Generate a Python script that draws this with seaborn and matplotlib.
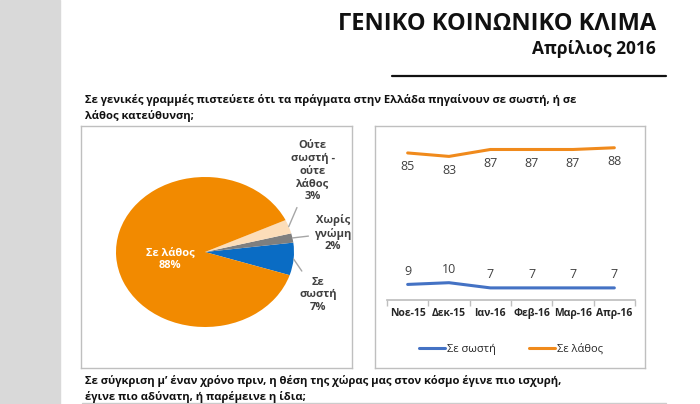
import numpy as np
import pandas as pd
import seaborn as sns
import matplotlib.pyplot as plt
from matplotlib.patches import Rectangle
from matplotlib.lines import Line2D

# ---- data ----
pie_labels = ["Σε\nσωστή\n7%", "Χωρίς\nγνώμη\n2%", "Ούτε\nσωστή -\nούτε\nλάθος\n3%", "Σε λάθος\n88%"]
pie_values = [7, 2, 3, 88]
pie_colors = ["#0A6CC4", "#7F7F7F", "#FCDDB9", "#F28A00"]

months = ["Νοε-15", "Δεκ-15", "Ιαν-16", "Φεβ-16", "Μαρ-16", "Απρ-16"]
sosti = [9, 10, 7, 7, 7, 7]
lathos = [85, 83, 87, 87, 87, 88]

title = "ΓΕΝΙΚΟ ΚΟΙΝΩΝΙΚΟ ΚΛΙΜΑ"
subtitle = "Απρίλιος 2016"
question1 = "Σε γενικές γραμμές πιστεύετε ότι τα πράγματα στην Ελλάδα πηγαίνουν σε σωστή, ή σε\nλάθος κατεύθυνση;"
question2 = "Σε σύγκριση μ’ έναν χρόνο πριν, η θέση της χώρας μας στον κόσμο έγινε πιο ισχυρή,\nέγινε πιο αδύνατη, ή παρέμεινε η ίδια;"

sns.set_theme(style="white")
plt.rcParams['font.family'] = ['Open Sans', 'DejaVu Sans']

W, H = 700, 404
fig = plt.figure(figsize=(7, 4.04), dpi=100)


def px_axes(x0, y0, x1, y1, **kw):
    """axes from pixel box (top-left origin)"""
    return fig.add_axes([x0 / W, 1 - y1 / H, (x1 - x0) / W, (y1 - y0) / H], **kw)


# page background
fig.patches.append(Rectangle((0, 0), 60 / W, 1, transform=fig.transFigure,
                             color="#D9D9D9", zorder=0))

fig.text(656 / W, 1 - 24 / H, title, ha="right", va="center", fontsize=17,
         fontweight="bold", color="#111111")
fig.text(656 / W, 1 - 49 / H, subtitle, ha="right", va="center", fontsize=12.5,
         fontweight="bold", color="#111111")
fig.add_artist(Line2D([392 / W, 666 / W], [1 - 76 / H] * 2, color="#111111", lw=1.6))
fig.text(85 / W, 1 - 108 / H, question1, ha="left", va="center", fontsize=8.1,
         fontweight="bold", color="#111111", linespacing=1.45)
fig.text(85 / W, 1 - 389 / H, question2, ha="left", va="center", fontsize=8.1,
         fontweight="bold", color="#111111", linespacing=1.45)
fig.add_artist(Line2D([82 / W, 666 / W], [1 - 403 / H] * 2, color="#CCCCCC", lw=1))

# chart boxes
for bx in [(81, 126, 352, 368), (375, 126, 645, 368)]:
    b = px_axes(*bx)
    b.set_xticks([])
    b.set_yticks([])
    for s in b.spines.values():
        s.set_color("#BFBFBF")
        s.set_linewidth(1)

# ---- pie ----
ax1 = px_axes(116, 177, 294, 327)
wedges, _ = ax1.pie(pie_values, colors=pie_colors, startangle=-18, counterclock=True,
                    wedgeprops=dict(linewidth=0))
ax1.set_aspect("auto")
ax1.set_xlim(-1, 1)
ax1.set_ylim(-1, 1)

label_pos = [(1.27, -0.57), (1.44, 0.25), (1.21, 1.08), (-0.39, -0.09)]
for w, lab, pos in zip(wedges, pie_labels, label_pos):
    mid = np.deg2rad((w.theta1 + w.theta2) / 2)
    if lab.startswith("Σε λάθος"):
        ax1.text(pos[0], pos[1], lab, ha="center", va="center", fontsize=8,
                 fontweight="bold", color="white", linespacing=1.2)
    else:
        ax1.annotate(lab, xy=(np.cos(mid), np.sin(mid)), xytext=pos,
                     ha="center", va="center", fontsize=8, fontweight="bold",
                     color="#404040", linespacing=1.2, annotation_clip=False,
                     arrowprops=dict(arrowstyle="-", color="#A6A6A6", lw=1,
                                     shrinkA=2, shrinkB=0))

# ---- lines ----
df = pd.DataFrame({
    "month": months * 2,
    "value": sosti + lathos,
    "series": ["Σε σωστή"] * len(months) + ["Σε λάθος"] * len(months),
})
line_colors = {"Σε σωστή": "#4472C4", "Σε λάθος": "#F08A1C"}

ax2 = px_axes(387, 127, 635, 300)
sns.lineplot(data=df, x="month", y="value", hue="series", palette=line_colors,
             linewidth=2.2, ax=ax2, legend=False, sort=False)
ax2.set_xlim(-0.5, len(months) - 0.5)
ax2.set_ylim(0, 100)
ax2.set_xlabel("")
ax2.set_ylabel("")
ax2.set_yticks([])
ax2.set_xticks(range(len(months)))
ax2.set_xticklabels(months, fontsize=7.5, fontweight="bold", color="#262626")
ax2.set_xticks(np.arange(-0.5, len(months)), minor=True)
ax2.tick_params(axis="x", which="major", length=0, pad=6)
ax2.tick_params(axis="x", which="minor", length=4, color="#BFBFBF", width=1,
                direction="out", bottom=True)
for s in ["top", "left", "right"]:
    ax2.spines[s].set_visible(False)
ax2.spines["bottom"].set_color("#BFBFBF")
ax2.patch.set_alpha(0)

for i, (a, b) in enumerate(zip(sosti, lathos)):
    ax2.annotate(str(a), (i, a), xytext=(0, 9.5), textcoords="offset points",
                 ha="center", va="center", fontsize=9, color="#404040")
    ax2.annotate(str(b), (i, b), xytext=(0, -10), textcoords="offset points",
                 ha="center", va="center", fontsize=9, color="#404040")

handles = [Line2D([], [], color=c, lw=2.2) for c in line_colors.values()]
ax2.legend(handles, list(line_colors.keys()), loc="center", ncol=2,
           bbox_to_anchor=(0.5, (300 - 349) / 173), frameon=False, fontsize=8,
           handlelength=2.3, columnspacing=3.0, handletextpad=0.2)

fig.savefig("out.png", dpi=100)
